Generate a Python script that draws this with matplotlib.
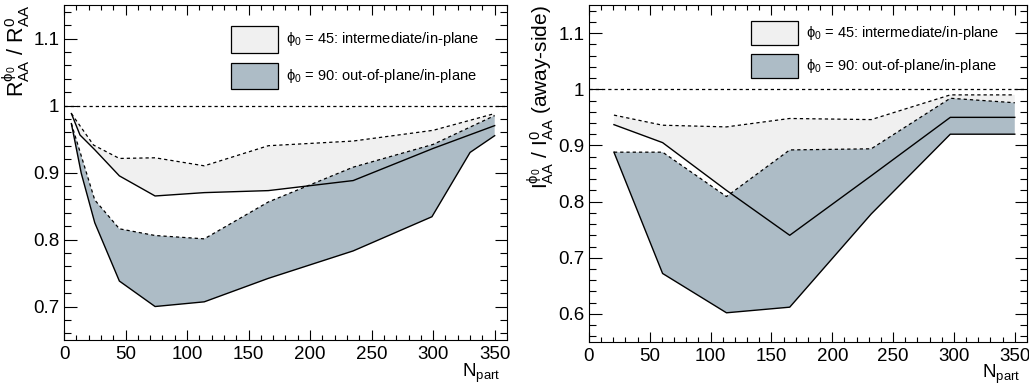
import matplotlib
matplotlib.use('Agg')
import matplotlib.pyplot as plt
from matplotlib.patches import Rectangle
from matplotlib.ticker import MultipleLocator
import numpy as np

matplotlib.rcParams.update({'font.family': 'Liberation Sans', 'font.size': 13.5,
                            'mathtext.fontset': 'custom', 'mathtext.rm': 'Liberation Sans',
                            'mathtext.it': 'Liberation Sans', 'mathtext.default': 'regular',
                            'axes.linewidth': 0.8})

# ---- left panel: R_AA ratio vs Npart ----
r_x_45_hi = [6, 24, 45, 74, 114, 166, 235, 300, 350]
r_y_45_hi = [0.988, 0.941, 0.921, 0.922, 0.910, 0.940, 0.947, 0.963, 0.988]
r_x_45_lo = [6, 13, 25, 45, 74, 114, 166, 235, 300, 350]
r_y_45_lo = [0.988, 0.956, 0.934, 0.895, 0.865, 0.870, 0.873, 0.888, 0.936, 0.970]
r_x_90_hi = [6, 25, 45, 74, 114, 166, 235, 300, 350]
r_y_90_hi = [0.973, 0.859, 0.816, 0.806, 0.801, 0.856, 0.908, 0.942, 0.985]
r_x_90_lo = [6, 14, 25, 45, 74, 114, 166, 235, 299, 330, 350]
r_y_90_lo = [0.973, 0.899, 0.825, 0.738, 0.700, 0.707, 0.742, 0.783, 0.834, 0.930, 0.955]

# ---- right panel: I_AA ratio (away-side) vs Npart ----
i_x = [20.5, 60.5, 113, 165, 232, 297, 350]
i_y_45_hi = [0.954, 0.936, 0.933, 0.948, 0.946, 0.990, 0.990]
i_y_45_lo = [0.937, 0.905, 0.820, 0.740, 0.846, 0.950, 0.950]
i_y_90_hi = [0.888, 0.888, 0.809, 0.892, 0.894, 0.984, 0.976]
i_y_90_lo = [0.888, 0.672, 0.602, 0.612, 0.778, 0.920, 0.920]

label_l = [r'$\phi_{0}$ = 45: intermediate/in-plane', r'$\phi_{0}$ = 90: out-of-plane/in-plane']
color_l = ['#f0f0f0', '#adbcc6']
dash = (0, (2.6, 2.4))


def draw_band(ax, x_hi, y_hi, x_lo, y_lo, color):
    ax.fill(np.concatenate([x_hi, x_lo[::-1]]), np.concatenate([y_hi, y_lo[::-1]]),
            color=color, lw=0, zorder=1)


def draw_edges(ax, x_hi, y_hi, x_lo, y_lo):
    ax.plot(x_hi, y_hi, color='k', lw=0.9, linestyle=dash, zorder=3)
    ax.plot(x_lo, y_lo, color='k', lw=1.0, zorder=3)


def draw_key(ax, x0, w, tops, h):
    for top, label, color in zip(tops, label_l, color_l):
        ax.add_patch(Rectangle((x0, top - h), w, h, transform=ax.transAxes, facecolor=color,
                               edgecolor='k', lw=0.9, zorder=5))
        ax.text(x0 + w + 0.018, top - h / 2, label, transform=ax.transAxes, fontsize=10.5,
                va='center', ha='left', zorder=5)


def style_axes(ax, ylim, label_y):
    ax.set_xlim(0, 360)
    ax.set_ylim(ylim)
    ax.xaxis.set_major_locator(MultipleLocator(50))
    ax.xaxis.set_minor_locator(MultipleLocator(10))
    ax.yaxis.set_major_locator(MultipleLocator(0.1))
    ax.yaxis.set_minor_locator(MultipleLocator(0.02))
    ax.yaxis.set_major_formatter(lambda v, p: '1' if abs(v - 1) < 1e-6 else '{:.1f}'.format(v))
    ax.tick_params(which='both', direction='in', top=True, right=True, width=0.8, labelsize=13.5)
    ax.xaxis.set_tick_params(which='major', length=7, pad=4)
    ax.xaxis.set_tick_params(which='minor', length=3.8)
    ax.yaxis.set_tick_params(which='major', length=9, pad=3.5)
    ax.yaxis.set_tick_params(which='minor', length=5)
    ax.axhline(1.0, color='k', lw=0.9, linestyle=dash, zorder=2)
    ax.set_xlabel(r'$N_{part}$', fontsize=13.5, ha='right', va='top')
    ax.xaxis.set_label_coords(0.985, label_y)


fig = plt.figure(figsize=(10.29, 3.87), dpi=100)
ax1 = fig.add_axes([0.0622, 0.1214, 0.4305, 0.8656])
ax2 = fig.add_axes([0.5724, 0.1163, 0.4256, 0.8707])

draw_band(ax1, r_x_45_hi, r_y_45_hi, r_x_45_lo, r_y_45_lo, color_l[0])
draw_band(ax1, r_x_90_hi, r_y_90_hi, r_x_90_lo, r_y_90_lo, color_l[1])
draw_edges(ax1, r_x_45_hi, r_y_45_hi, r_x_45_lo, r_y_45_lo)
draw_edges(ax1, r_x_90_hi, r_y_90_hi, r_x_90_lo, r_y_90_lo)
style_axes(ax1, (0.65, 1.15), -0.066)
ax1.set_ylabel(r'$R_{AA}^{\phi_0}$ / $R_{AA}^{0}$', loc='top', labelpad=1, fontsize=15.5)
draw_key(ax1, 0.376, 0.108, [0.938, 0.828], 0.08)

draw_band(ax2, i_x, i_y_45_hi, i_x, i_y_45_lo, color_l[0])
draw_band(ax2, i_x, i_y_90_hi, i_x, i_y_90_lo, color_l[1])
draw_edges(ax2, i_x, i_y_45_hi, i_x, i_y_45_lo)
draw_edges(ax2, i_x, i_y_90_hi, i_x, i_y_90_lo)
style_axes(ax2, (0.55, 1.15), -0.062)
ax2.set_ylabel(r'$I_{AA}^{\phi_0}$ / $I_{AA}^{0}$ (away-side)', loc='top', labelpad=1, fontsize=15)
draw_key(ax2, 0.369, 0.1075, [0.9525, 0.854], 0.07)

plt.savefig('out.png', dpi=100)
